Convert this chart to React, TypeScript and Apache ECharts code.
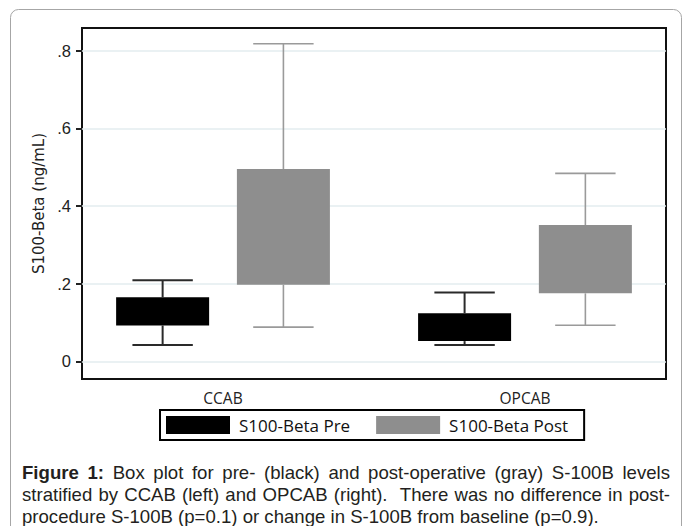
import React, { useEffect, useRef } from "react";
import * as echarts from "echarts";

const categories = ["CCAB", "OPCAB"];
const seriesNames = ["S100-Beta Pre", "S100-Beta Post"];
const preLow = [0.042, 0.042];
const preQ1 = [0.092, 0.052];
const preQ3 = [0.165, 0.124];
const preHigh = [0.209, 0.177];
const postLow = [0.088, 0.093];
const postQ1 = [0.197, 0.175];
const postQ3 = [0.495, 0.351];
const postHigh = [0.818, 0.484];
const yTicks = [0, 0.2, 0.4, 0.6, 0.8];
const yTickLabels = ["0", ".2", ".4", ".6", ".8"];
const yAxisTitle = "S100-Beta (ng/mL)";
const captionLabel = "Figure 1:";
const captionLines = [
  "Box plot for pre- (black) and post-operative (gray) S-100B levels",
  "stratified by CCAB (left) and OPCAB (right).  There was no difference in post-",
  "procedure S-100B (p=0.1) or change in S-100B from baseline (p=0.9).",
];

const CAP_FAMILY = '"Liberation Sans", Arial, sans-serif';
const CAP_SIZE = 18.6;
const CAP_LEFT = 22;
const CAP_RIGHT = 670;
const CAP_Y = [472.7, 494.3, 516];

function buildCaption(): any[] {
  const ctx = document.createElement("canvas").getContext("2d") as CanvasRenderingContext2D;
  const measure = (t: string, bold: boolean) => {
    ctx.font = `${bold ? "bold " : ""}${CAP_SIZE}px "Liberation Sans"`;
    return ctx.measureText(t).width;
  };
  const out: any[] = [];
  const lines = [captionLabel + " " + captionLines[0], captionLines[1], captionLines[2]];
  lines.forEach((line, li) => {
    const parts = line.split(" ");
    const words: { t: string; bold: boolean; gap: number }[] = [];
    let pending = 0;
    let boldCount = li === 0 ? captionLabel.split(" ").length : 0;
    parts.forEach((p) => {
      if (p === "") {
        pending += 1;
        return;
      }
      words.push({ t: p, bold: boldCount > 0, gap: words.length ? pending + 1 : 0 });
      if (boldCount > 0) boldCount -= 1;
      pending = 0;
    });
    const justify = li < lines.length - 1;
    const widths = words.map((w) => measure(w.t, w.bold));
    const totalW = widths.reduce((a, b) => a + b, 0);
    const totalGap = words.reduce((a, w) => a + w.gap, 0);
    const spaceW = measure(" ", false);
    const unit = justify ? (CAP_RIGHT - CAP_LEFT - totalW) / totalGap : spaceW;
    let x = CAP_LEFT;
    words.forEach((w, i) => {
      x += w.gap * unit;
      out.push({
        type: "text",
        x,
        y: CAP_Y[li],
        silent: true,
        style: {
          text: w.t,
          fontFamily: CAP_FAMILY,
          fontSize: CAP_SIZE,
          fontWeight: w.bold ? "bold" : "normal",
          fill: "#231f20",
          verticalAlign: "middle",
          align: "left",
        },
      });
      x += widths[i];
    });
  });
  return out;
}

function makeRenderItem(offset: number, fill: string, stroke: string, lw: number) {
  return (params: any, api: any) => {
    const x = api.value(0) + offset;
    const low = api.value(1);
    const q1 = api.value(2);
    const q3 = api.value(3);
    const high = api.value(4);
    const halfBox = 0.154;
    const halfCap = 0.1;
    const c = (a: number, b: number) => api.coord([a, b]);
    const line = (p1: number[], p2: number[]) => ({
      type: "line",
      shape: { x1: p1[0], y1: p1[1], x2: p2[0], y2: p2[1] },
      style: { stroke, lineWidth: lw },
    });
    const tl = c(x - halfBox, q3);
    const br = c(x + halfBox, q1);
    return {
      type: "group",
      children: [
        line(c(x, q3), c(x, high)),
        line(c(x - halfCap, high), c(x + halfCap, high)),
        line(c(x, q1), c(x, low)),
        line(c(x - halfCap, low), c(x + halfCap, low)),
        {
          type: "rect",
          shape: { x: tl[0], y: tl[1], width: br[0] - tl[0], height: br[1] - tl[1] },
          style: { fill },
        },
      ],
    };
  };
}

export default function App() {
  const ref = useRef<HTMLDivElement>(null);
  useEffect(() => {
    if (!ref.current) return;
    const chart = echarts.init(ref.current, null, { renderer: "svg" });
    const preData = categories.map((_, i) => [i + 1, preLow[i], preQ1[i], preQ3[i], preHigh[i]]);
    const postData = categories.map((_, i) => [i + 1, postLow[i], postQ1[i], postQ3[i], postHigh[i]]);
    const colors = ["#000000", "#8e8e8e"];
    const option: any = {
      animation: false,
      backgroundColor: "#ffffff",
      grid: {
        left: 82,
        right: 17,
        top: 28,
        bottom: 147,
        show: true,
        borderColor: "#111111",
        borderWidth: 2,
        backgroundColor: "transparent",
      },
      xAxis: {
        type: "value",
        min: 0.533,
        max: 2.467,
        axisLine: { show: false },
        axisTick: { show: false },
        splitLine: { show: false },
        axisLabel: {
          customValues: [1, 2],
          formatter: (v: number) => categories[Math.round(v) - 1] ?? "",
          margin: 11,
          fontFamily: "Open Sans",
          fontSize: 15.5,
          color: "#222222",
        },
      },
      yAxis: {
        type: "value",
        min: -0.0456,
        max: 0.8585,
        name: yAxisTitle,
        nameLocation: "middle",
        nameGap: 36,
        nameRotate: 90,
        nameTextStyle: { fontFamily: "DejaVu Sans", fontSize: 15, color: "#222222" },
        axisLine: { show: false },
        axisTick: { show: true, length: 6, customValues: yTicks, lineStyle: { color: "#222222", width: 2 } },
        axisLabel: {
          customValues: yTicks,
          formatter: (v: number) => {
            const i = yTicks.findIndex((t) => Math.abs(t - v) < 1e-6);
            return i >= 0 ? yTickLabels[i] : "";
          },
          margin: 11,
          fontFamily: "Liberation Sans",
          fontSize: 16.5,
          color: "#222222",
        },
        splitLine: { show: true, lineStyle: { color: "#e3edef", width: 1.5 } },
      },
      legend: {
        data: seriesNames.map((n, i) => ({ name: n, icon: "rect", itemStyle: { color: colors[i] } })),
        left: 160,
        top: 410,
        orient: "horizontal",
        itemWidth: 64,
        itemHeight: 18,
        itemGap: 26,
        borderColor: "#000000",
        borderWidth: 2,
        borderRadius: 0,
        padding: [6, 16, 6, 6],
        selectedMode: false,
        textStyle: { fontFamily: "Open Sans", fontSize: 17, color: "#111111", padding: [0, 0, 0, 4] },
      },
      series: [
        {
          name: seriesNames[0],
          type: "custom",
          renderItem: makeRenderItem(-0.2, colors[0], "#2a2a2a", 2),
          itemStyle: { color: colors[0] },
          encode: { x: 0, y: [1, 2, 3, 4] },
          data: preData,
          silent: true,
        },
        {
          name: seriesNames[1],
          type: "custom",
          renderItem: makeRenderItem(0.2, colors[1], "#9a9a9a", 1.6),
          itemStyle: { color: colors[1] },
          encode: { x: 0, y: [1, 2, 3, 4] },
          data: postData,
          silent: true,
        },
      ],
      graphic: [
        {
          type: "rect",
          silent: true,
          z: -10,
          shape: { x: 10.5, y: 9.5, width: 671, height: 600, r: 8 },
          style: { fill: "none", stroke: "#a6a6a6", lineWidth: 1 },
        },
        ...buildCaption(),
      ],
    };
    chart.setOption(option);
    return () => chart.dispose();
  }, []);
  return (
    <div
      ref={ref}
      style={{ position: "fixed", left: 0, top: 0, width: 683, height: 526, background: "#fff" }}
    />
  );
}
